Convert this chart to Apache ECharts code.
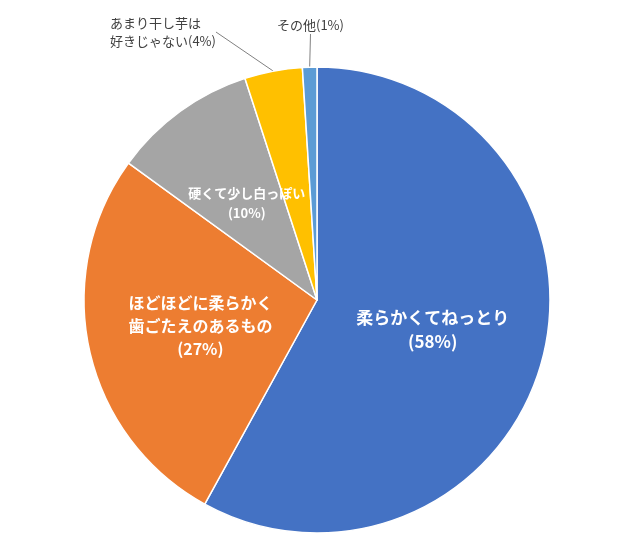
<!DOCTYPE html>
<html><head><meta charset="utf-8">
<script src="https://cdn.jsdelivr.net/npm/echarts@6/dist/echarts.min.js"></script>
<style>html,body{margin:0;padding:0;background:#fff}#c{width:618px;height:553px}</style>
</head><body><div id="c"></div>
<script>
const categories = ['柔らかくてねっとり','ほどほどに柔らかく\n歯ごたえのあるもの','硬くて少し白っぽい','あまり干し芋は\n好きじゃない','その他'];
const values = [58, 27, 10, 4, 1];
const colors = ['#4472C4','#ED7D31','#A5A5A5','#FFC000','#5B9BD5'];
const insideSizes = [17, 16, 13];
const outsidePos = [null, null, null, [175, 32], [312, 25]];
const chart = echarts.init(document.getElementById('c'));
chart.setOption({
  animation: false,
  textStyle: {fontFamily: '"Noto Sans CJK JP", sans-serif'},
  series: [{
    type: 'pie',
    center: [317, 300],
    radius: [0, 233],
    startAngle: 90,
    clockwise: true,
    itemStyle: {borderColor: '#fff', borderWidth: 1.5},
    data: values.map((v, i) => {
      const inside = i < 3;
      return {
        name: categories[i], value: v,
        itemStyle: {color: colors[i]},
        label: inside ? {
          show: true, position: 'inside', color: '#fff', fontWeight: 'bold',
          fontSize: insideSizes[i], lineHeight: insideSizes[i] + 7, align: 'center',
          formatter: p => p.name + '\n(' + p.value + '%)'
        } : {
          show: true, position: 'outside', color: '#404040', fontSize: 13, lineHeight: 18,
          align: 'left', formatter: p => p.name + '(' + p.value + '%)'
        },
        labelLine: inside ? {show: false} : {show: true, length: 8, length2: 0, lineStyle: {color: '#808080', width: 1}}
      };
    }),
    labelLayout: function (p) {
      const pos = outsidePos[p.dataIndex];
      if (!pos) return {};
      return {x: pos[0] - (p.dataIndex === 3 ? 65 : 35), y: pos[1], align: 'left', verticalAlign: 'middle'};
    }
  }]
});
</script></body></html>
